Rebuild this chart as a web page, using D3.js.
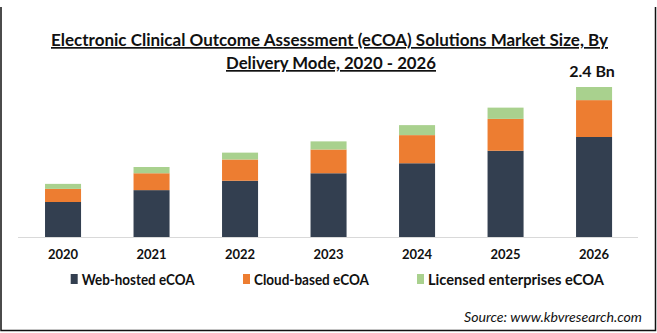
<!DOCTYPE html>
<html><head><meta charset="utf-8">
<script src="https://cdn.jsdelivr.net/npm/d3@7"></script>
<style>html,body{margin:0;padding:0;background:#fff;}svg{display:block;}</style>
</head><body>
<svg id="c" width="657" height="333"></svg>
<script>
const years = ["2020","2021","2022","2023","2024","2025","2026"];
const seriesNames = ["Web-hosted eCOA","Cloud-based eCOA","Licensed enterprises eCOA"];
const webHosted = [0.56, 0.75, 0.90, 1.02, 1.18, 1.38, 1.60];
const cloudBased = [0.21, 0.27, 0.34, 0.38, 0.45, 0.51, 0.59];
const licensed = [0.08, 0.10, 0.11, 0.13, 0.16, 0.18, 0.21];
const colors = ["#333f50", "#ed7d31", "#a9d18e"];
const titleLines = ["Electronic Clinical Outcome Assessment (eCOA) Solutions Market Size, By", "Delivery Mode, 2020 - 2026"];
const lastLabel = "2.4 Bn";
const sourceText = "Source: www.kbvresearch.com";

const svg = d3.select("#c");
const font = "Lato, 'Open Sans', sans-serif";

// frame
svg.append("path").attr("d","M1,7V330.5H655.5V7").attr("fill","none").attr("stroke","#111").attr("stroke-width",1.5);

const table = years.map((y,i)=>({year:y, "Web-hosted eCOA":webHosted[i], "Cloud-based eCOA":cloudBased[i], "Licensed enterprises eCOA":licensed[i]}));
const stack = d3.stack().keys(seriesNames)(table);

const x = d3.scaleBand().domain(years).range([22.9, 634.2]).paddingInner(0.593).paddingOuter(0.25);
const y = d3.scaleLinear().domain([0, 2.4]).range([237, 87]);

svg.append("g").selectAll("g").data(stack).join("g")
  .attr("fill",(d,i)=>colors[i])
  .selectAll("rect").data(d=>d).join("rect")
  .attr("x",d=>x(d.data.year)).attr("width",x.bandwidth())
  .attr("y",d=>y(d[1])).attr("height",d=>y(d[0])-y(d[1]));

// baseline
svg.append("line").attr("x1",18).attr("x2",638).attr("y1",y(0)+0.5).attr("y2",y(0)+0.5)
  .attr("stroke","#d9d9d9").attr("stroke-width",1);

const ax = svg.append("g").attr("transform",`translate(0,${y(0)+13})`)
  .call(d3.axisBottom(x).tickSize(0).tickPadding(0));
ax.select(".domain").remove();
ax.selectAll("text").attr("font-family",font).attr("font-weight","bold").attr("font-size",13).attr("fill","#111")
  .attr("dy","0.71em");

// total label on last bar
const lastIdx = years.length-1;
const lastTop = stack[stack.length-1][lastIdx][1];
svg.append("text").attr("x",x(years[lastIdx])+x.bandwidth()/2 - 2).attr("y",y(lastTop)-10)
  .attr("text-anchor","middle").attr("font-family",font).attr("font-weight","bold").attr("font-size",16)
  .attr("fill","#111").text(lastLabel);

// title
const tl = [{t:titleLines[0], cx:329.5, by:46, w:557},{t:titleLines[1], cx:331, by:69, w:210}];
tl.forEach(o=>{
  svg.append("text").attr("x",o.cx).attr("y",o.by).attr("text-anchor","middle")
    .attr("font-family",font).attr("font-weight","bold").attr("font-size",17).attr("fill","#111")
    .attr("textLength",o.w).attr("lengthAdjust","spacingAndGlyphs")
    .style("text-decoration","underline").text(o.t);
});

// legend
const legX = [70.7, 243, 417];
const legW = [113, 115, 176];
const lg = svg.append("g");
seriesNames.forEach((n,i)=>{
  lg.append("rect").attr("x",legX[i]).attr("y",274).attr("width",7).attr("height",10).attr("fill",colors[i]);
  lg.append("text").attr("x",legX[i]+11).attr("y",284.5).attr("font-family",font).attr("font-weight","bold")
    .attr("font-size",15).attr("fill","#111").attr("textLength",legW[i]).attr("lengthAdjust","spacingAndGlyphs").text(n);
});

// source
svg.append("text").attr("x",464).attr("y",322).attr("font-family",font).attr("font-style","italic")
  .attr("font-size",14).attr("fill","#111").attr("textLength",178).attr("lengthAdjust","spacingAndGlyphs").text(sourceText);
</script>
</body></html>
